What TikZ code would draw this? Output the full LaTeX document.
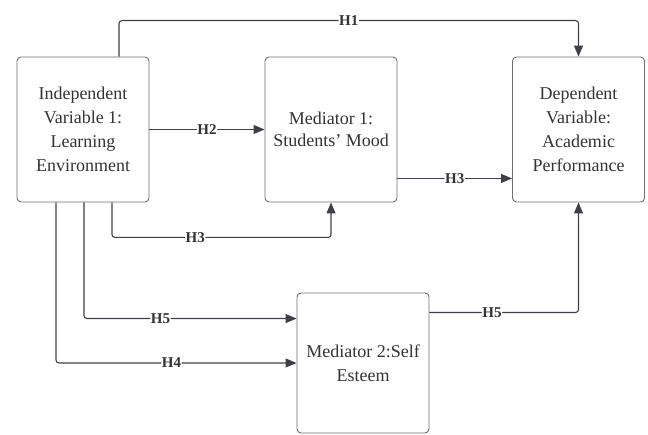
\documentclass[tikz,border=0pt]{standalone}
\usepackage{fontspec}
\setmainfont{Liberation Serif}
\usepackage{tikz}
\usetikzlibrary{arrows.meta}

\definecolor{linegray}{HTML}{3D4048}
\definecolor{boxgray}{HTML}{6E6E6E}
\definecolor{textgray}{HTML}{333333}

\begin{document}
\begin{tikzpicture}[x=1pt, y=-1pt,
        varbox/.style={draw=boxgray, line width=0.9pt, rounded corners=4pt, minimum width=132pt,
            minimum height=145pt, align=center, text=textgray, font=\fontsize{18}{24}\selectfont},
        conn/.style={draw=linegray, line width=1.1pt, rounded corners=3pt,
            -{Triangle[length=11pt, width=9pt]}},
        hyp/.style={fill=white, inner sep=0.5pt, text=textgray, font=\fontsize{15}{15}\selectfont\bfseries}]
            \useasboundingbox (0,0) rectangle (648,435);

            \node[varbox] (iv) at (83,129.5) {Independent\\Variable 1:\\Learning\\Environment};
            \node[varbox] (med1) at (331,129.5) {Mediator 1:\\[-2pt]Students' Mood};
            \node[varbox] (dv) at (578.5,129.5) {Dependent\\Variable:\\Academic\\Performance};
            \node[varbox, minimum height=140pt] (med2) at (363,363) {Mediator 2:Self\\Esteem};

            \draw[conn] ([xshift=36pt]iv.north) -- ++(0,-36) -| node[hyp, pos=0.25] {H1} (dv.north);
            \draw[conn] (iv.east) -- node[hyp] {H2} (med1.west);
            \draw[conn] ([yshift=24pt]med1.south east) -- node[hyp] {H3} ([yshift=24pt]dv.south west);
            \draw[conn] ([xshift=29pt]iv.south) -- ++(0,35) -| node[hyp, pos=0.19] {H3} (med1.south);
            \draw[conn] ([xshift=1pt]iv.south) |- node[hyp, pos=0.68] {H5} ([yshift=-26pt]med2.north west);
            \draw[conn] ([xshift=-27pt]iv.south) |- node[hyp, pos=0.74] {H4} (med2.west);
            \draw[conn] ([yshift=-20pt]med2.north east) -| node[hyp, pos=0.21] {H5} (dv.south);
        \end{tikzpicture}
\end{document}
